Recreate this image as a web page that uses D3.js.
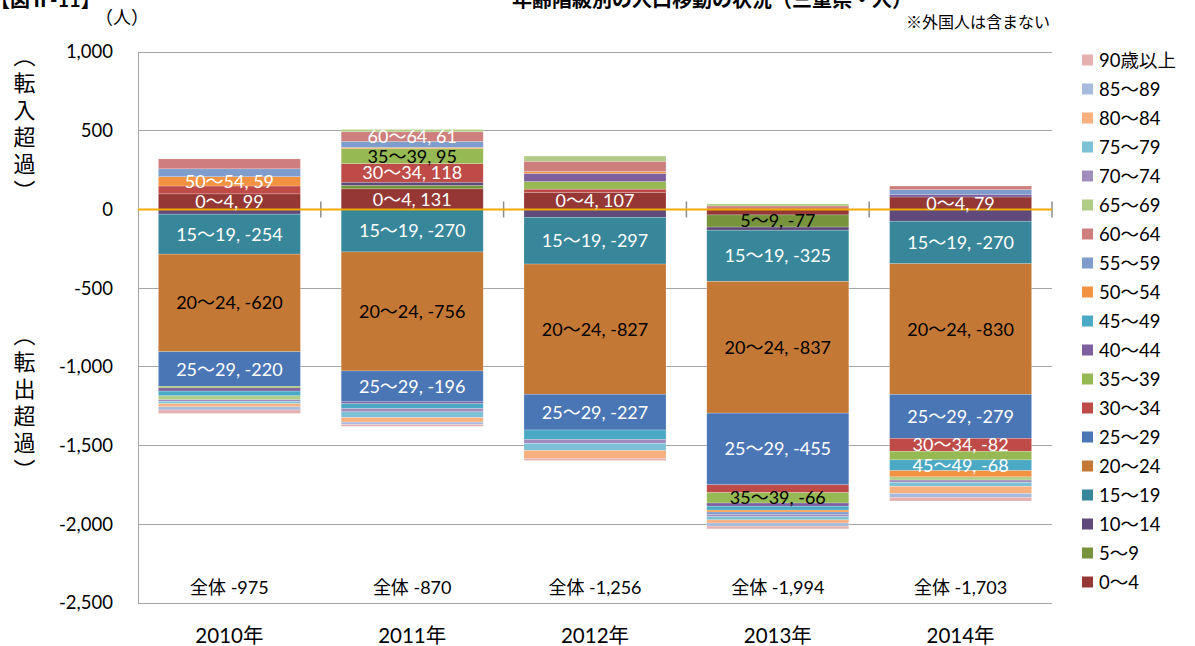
<!DOCTYPE html>
<html><head><meta charset="utf-8">
<script src="https://cdn.jsdelivr.net/npm/d3@7"></script>
<style>
body{margin:0;background:#fff;}
text{font-family:"Lato","Noto Sans CJK JP",sans-serif;}
</style></head>
<body>
<svg id="c" width="1195" height="646"></svg>
<script>
const years = ["2010年","2011年","2012年","2013年","2014年"];
const groups = ["0〜4","5〜9","10〜14","15〜19","20〜24","25〜29","30〜34","35〜39","40〜44","45〜49","50〜54","55〜59","60〜64","65〜69","70〜74","75〜79","80〜84","85〜89","90歳以上"];
const v0_4   = [99, 131, 107, -35, 79];
const v5_9   = [0, 22, 0, -77, 0];
const v10_14 = [-30, 20, -50, -20, -75];
const v15_19 = [-254, -270, -297, -325, -270];
const v20_24 = [-620, -756, -827, -837, -830];
const v25_29 = [-220, -196, -227, -455, -279];
const v30_34 = [50, 118, 22, -50, -82];
const v35_39 = [-10, 95, 48, -66, -55];
const v40_44 = [-20, -12, 52, -20, 17];
const v45_49 = [-30, -30, -60, -25, -68];
const v50_54 = [59, 8, 12, -12, -40];
const v55_59 = [50, 38, 0, -15, 30];
const v60_64 = [63, 61, 65, 22, 23];
const v65_69 = [-25, 15, 33, 13, -20];
const v70_74 = [-10, -22, -25, -15, -15];
const v75_79 = [-15, -36, -45, -20, -25];
const v80_84 = [-20, -29, -50, -20, -45];
const v85_89 = [-20, -15, 0, -20, -25];
const v90    = [-22, -12, -14, -17, -23];
const totals = [-975, -870, -1256, -1994, -1703];
const yTicks = [1000, 500, 0, -500, -1000, -1500, -2000, -2500];
const colors = ["#953735","#77933c","#604a7b","#37869a","#c47836","#4a76b6","#be4b48","#97b954","#7d5fa0","#4aaac5","#f39240","#7e9ccc","#ce7e7d","#b1cc87","#a08cbd","#7cc1d6","#f9b07f","#a6bbdd","#e4b0b0"];
// labelled segments: [year index, group]
const labelled = [[0,"50〜54"],[0,"0〜4"],[0,"15〜19"],[0,"20〜24"],[0,"25〜29"],
  [1,"60〜64"],[1,"35〜39"],[1,"30〜34"],[1,"0〜4"],[1,"15〜19"],[1,"20〜24"],[1,"25〜29"],
  [2,"0〜4"],[2,"15〜19"],[2,"20〜24"],[2,"25〜29"],
  [3,"5〜9"],[3,"15〜19"],[3,"20〜24"],[3,"25〜29"],[3,"35〜39"],
  [4,"0〜4"],[4,"15〜19"],[4,"20〜24"],[4,"25〜29"],[4,"30〜34"],[4,"45〜49"]];
const darkLabelGroups = ["5〜9","20〜24","35〜39"];

const series = [v0_4,v5_9,v10_14,v15_19,v20_24,v25_29,v30_34,v35_39,v40_44,v45_49,v50_54,v55_59,v60_64,v65_69,v70_74,v75_79,v80_84,v85_89,v90];
const table = years.map((yr,i)=>{const o={year:yr}; groups.forEach((g,j)=>o[g]=series[j][i]); return o;});

const fmt = d3.formatLocale({decimal:".",thousands:",",grouping:[3],currency:["",""],minus:"-"}).format(",");

const svg = d3.select("#c");
const L=138, R=1052, T=52, B=603;
const x = d3.scaleBand().domain(years).range([L,R]).padding(0);
const barW = x.bandwidth()*0.777;
const y = d3.scaleLinear().domain([-2500,1000]).range([B,T]);
const color = d3.scaleOrdinal().domain(groups).range(colors);

// gridlines
svg.append("g").selectAll("line").data(yTicks.filter(t=>t!==0)).join("line")
  .attr("x1",L).attr("x2",R).attr("y1",d=>y(d)).attr("y2",d=>y(d))
  .attr("stroke","#a6a6a6").attr("stroke-width",1).attr("shape-rendering","crispEdges");
// left axis
const ya = d3.axisLeft(y).tickValues(yTicks).tickFormat(fmt).tickSize(0).tickPadding(25);
const gy = svg.append("g").attr("transform",`translate(${L},0)`).call(ya);
gy.select(".domain").attr("stroke","#a6a6a6").attr("shape-rendering","crispEdges");
gy.selectAll("text").attr("font-size",18.5).attr("fill","#000").attr("font-family","Lato,'Noto Sans CJK JP'");

// stacked bars
const stack = d3.stack().keys(groups).offset(d3.stackOffsetDiverging);
const st = stack(table);
const gBars = svg.append("g");
st.forEach(layer=>{
  gBars.selectAll(null).data(layer).join("rect")
    .attr("x",d=>x(d.data.year)+(x.bandwidth()-barW)/2)
    .attr("width",barW)
    .attr("y",d=>y(Math.max(d[0],d[1])))
    .attr("height",d=>Math.abs(y(d[0])-y(d[1])))
    .attr("fill",color(layer.key))
    .attr("stroke","#fff").attr("stroke-opacity",0.35).attr("stroke-width",0.6);
});

// zero line with category ticks
const ticksX = d3.range(years.length+1).map(i=> i<years.length ? x(years[i]) : R);
svg.append("g").selectAll("line").data(ticksX.slice(1)).join("line")
  .attr("x1",d=>d).attr("x2",d=>d).attr("y1",y(0)-8).attr("y2",y(0)+8)
  .attr("stroke","#8c8c8c").attr("stroke-width",1.5);
svg.append("line").attr("x1",L).attr("x2",R).attr("y1",y(0)).attr("y2",y(0))
  .attr("stroke","#f2a900").attr("stroke-width",2);

// data labels
const gLab = svg.append("g");
labelled.forEach(([i,g])=>{
  const layer = st[groups.indexOf(g)];
  const d = layer[i];
  const cy = (y(d[0])+y(d[1]))/2;
  gLab.append("text").attr("x",x(years[i])+x.bandwidth()/2).attr("y",cy)
    .attr("dy","0.36em").attr("text-anchor","middle").attr("font-size",18)
    .attr("fill",darkLabelGroups.includes(g)?"#000":"#fff")
    .text(`${g}, ${fmt(d.data[g])}`);
});

// totals
svg.append("g").selectAll("text").data(years).join("text")
  .attr("x",d=>x(d)+x.bandwidth()/2).attr("y",594).attr("text-anchor","middle")
  .attr("font-size",18).attr("fill","#000")
  .text((d,i)=>`全体 ${fmt(totals[i])}`);

// category labels
svg.append("g").selectAll("text").data(years).join("text")
  .attr("x",d=>x(d)+x.bandwidth()/2).attr("y",643).attr("text-anchor","middle")
  .attr("font-size",20.5).attr("fill","#000").text(d=>d);

// legend
const lg = svg.append("g");
groups.slice().reverse().forEach((g,k)=>{
  const cy = 60 + k*29;
  lg.append("rect").attr("x",1082).attr("y",cy-5.5).attr("width",11).attr("height",11).attr("fill",color(g));
  lg.append("text").attr("x",1099).attr("y",cy).attr("dy","0.36em").attr("font-size",18.5).attr("fill","#000").text(g);
});

// titles & notes
svg.append("text").attr("x",-10).attr("y",7).attr("font-size",20).attr("font-weight","bold").text("【図Ⅱ-11】");
svg.append("text").attr("x",512).attr("y",7).attr("font-size",20).attr("font-weight","bold").text("年齢階級別の人口移動の状況（三重県・人）");
svg.append("text").attr("x",95).attr("y",24).attr("font-size",18).text("（人）");
svg.append("text").attr("x",1050).attr("y",28).attr("text-anchor","end").attr("font-size",16).text("※外国人は含まない");
svg.append("text").attr("x",23).attr("y",126).attr("text-anchor","middle").attr("writing-mode","vertical-rl")
  .attr("font-size",22).attr("letter-spacing",5).text("（転入超過）");
svg.append("text").attr("x",23).attr("y",405).attr("text-anchor","middle").attr("writing-mode","vertical-rl")
  .attr("font-size",22).attr("letter-spacing",5).text("（転出超過）");
</script>
</body></html>
